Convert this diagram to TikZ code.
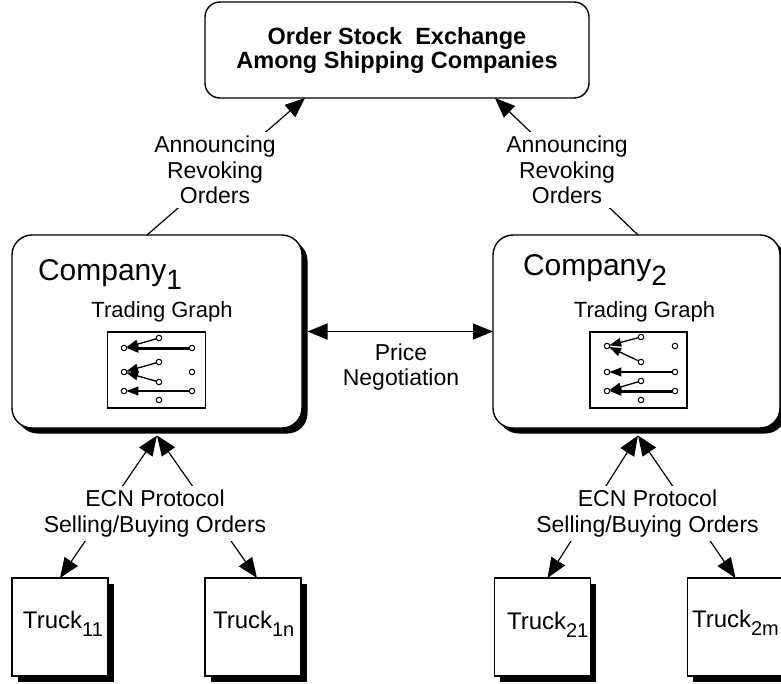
\documentclass[tikz,border=0pt]{standalone}
\usepackage{fontspec}
\setmainfont{Liberation Sans}
\usetikzlibrary{arrows.meta,shadows,calc}
\begin{document}
\begin{tikzpicture}[x=1pt,y=-1pt,
  every node/.style={inner sep=0pt,outer sep=0pt},
  shad/.style={drop shadow={shadow xshift=5.5pt,shadow yshift=-5.5pt,fill=black,opacity=1}},
  topbox/.style={draw,line width=1.4pt,fill=white,rounded corners=15pt,
    minimum width=384pt,minimum height=96pt,align=center,
    font=\fontsize{23.5}{24}\selectfont\bfseries},
  compbox/.style={draw,line width=1.4pt,fill=white,rounded corners=20pt,shad,
    minimum height=193pt},
  truckbox/.style={draw,line width=1.4pt,fill=white,shad,
    minimum width=96pt,minimum height=98pt},
  graphbox/.style={draw,line width=1.1pt,fill=white,minimum width=98pt,minimum height=76pt},
  gdot/.style={circle,draw,line width=1pt,fill=white,minimum size=5.5pt,inner sep=0pt},
  tip/.tip={Triangle[length=20pt,width=16pt]},
  gtip/.tip={Triangle[length=12pt,width=8.5pt]},
  conn/.style={line width=1.2pt,-tip},
  dconn/.style={line width=1.2pt,tip-tip},
  gthin/.style={line width=1.3pt,-gtip,shorten >=-0.5pt},
  gmed/.style={line width=2pt,-gtip,shorten >=-0.5pt},
  gthick/.style={line width=3pt,-gtip,shorten >=-0.5pt},
  lbl/.style={fill=white,align=center,font=\fontsize{23}{25.5}\selectfont,inner xsep=2pt,inner ysep=4.5pt},
  comptext/.style={anchor=base west,font=\fontsize{30}{30}\selectfont},
  tgtext/.style={anchor=base,font=\fontsize{22}{22}\selectfont},
  trucktext/.style={anchor=base west,font=\fontsize{24}{24}\selectfont}
]
\useasboundingbox (0,0) rectangle (781,683);
\clip (0,0) rectangle (781,683);

% main boxes
\node[topbox] (top) at (397,50) {Order Stock\ \ Exchange\\Among Shipping Companies};
\node[compbox,minimum width=290pt] (c1) at (157,331.5) {};
\node[compbox,minimum width=287pt] (c2) at (636.5,331.5) {};

\node[comptext] (c1t) at (38,280) {Company\raisebox{-9pt}{\fontsize{28}{28}\selectfont 1}};
\node[comptext] (c2t) at (523,275) {Company\raisebox{-10pt}{\fontsize{28}{28}\selectfont 2}};
\node[tgtext] (tg1) at (162,317) {Trading Graph};
\node[tgtext] (tg2) at (644.5,317) {Trading Graph};

% trading graph 1
\node[graphbox] (g1) at (156.5,370) {};
\node[gdot] (g1a) at (124,348) {};
\node[gdot] (g1b) at (159,338) {};
\node[gdot] (g1c) at (192,348) {};
\node[gdot] (g1d) at (124,372) {};
\node[gdot] (g1e) at (159,362) {};
\node[gdot] (g1f) at (192,372) {};
\node[gdot] (g1g) at (159,382) {};
\node[gdot] (g1h) at (124,391) {};
\node[gdot] (g1i) at (192,391) {};
\node[gdot] (g1j) at (159,400) {};
\draw[gthin] (g1b) -- (g1a);
\draw[gthick] (g1c) -- (g1a);
\draw[gthin] (g1e) -- (g1d);
\draw[gthin] (g1g) -- (g1d);
\draw[gmed] (g1i) -- (g1h);

% trading graph 2
\node[graphbox,minimum width=97pt] (g2) at (638.5,370) {};
\node[gdot] (g2a) at (607,346) {};
\node[gdot] (g2b) at (641,337) {};
\node[gdot] (g2c) at (675,346) {};
\node[gdot] (g2d) at (641,362) {};
\node[gdot] (g2e) at (607,372) {};
\node[gdot] (g2f) at (675,372) {};
\node[gdot] (g2g) at (641,381) {};
\node[gdot] (g2h) at (607,391) {};
\node[gdot] (g2i) at (675,391) {};
\node[gdot] (g2j) at (641,400) {};
\draw[gthin] (g2b) -- (g2a);
\draw[gthin] (g2d) -- (g2a);
\draw[gmed] (g2f) -- (g2e);
\draw[gthin] (g2g) -- (g2h);
\draw[gthick] (g2i) -- (g2h);

% trucks
\node[truckbox] (t11) at (60,627) {};
\node[truckbox] (t1n) at (253,627) {};
\node[truckbox] (t21) at (542.5,627) {};
\node[truckbox] (t2m) at (735.5,627) {};
\node[trucktext] (t11t) at (23,628) {Truck\raisebox{-8pt}{\fontsize{20}{20}\selectfont 11}};
\node[trucktext] (t1nt) at (213,628) {Truck\raisebox{-8pt}{\fontsize{20}{20}\selectfont 1n}};
\node[trucktext] (t21t) at (507,629) {Truck\raisebox{-8pt}{\fontsize{20}{20}\selectfont 21}};
\node[trucktext] (t2mt) at (692,627) {Truck\raisebox{-8pt}{\fontsize{20}{20}\selectfont 2m}};

% connectors
\draw[conn] ([xshift=-10pt]c1.north) -- ([xshift=-92pt]top.south);
\draw[conn] ([xshift=1.5pt]c2.north) -- ([xshift=98pt]top.south);
\draw[dconn] ([xshift=5.5pt]c1.east) -- (c2.west);
\draw[dconn] (t11.north) -- ([yshift=-7.5pt]c1.south);
\draw[dconn] ([xshift=4pt]t1n.north) -- ([yshift=-7.5pt]c1.south);
\draw[dconn] ([xshift=5pt]t21.north) -- ([xshift=1.5pt,yshift=-7.5pt]c2.south);
\draw[dconn] (t2m.north) -- ([xshift=1.5pt,yshift=-7.5pt]c2.south);

% labels
\node[lbl] (ann1) at (215,170) {Announcing\\Revoking\\Orders};
\node[lbl] (ann2) at (567,170) {Announcing\\Revoking\\Orders};
\node[lbl] (price) at (401,367) {Price\\Negotiation};
\node[lbl] (ecn1) at (155,513.5) {ECN Protocol\\Selling/Buying Orders};
\node[lbl] (ecn2) at (647.5,513.5) {ECN Protocol\\Selling/Buying Orders};
\end{tikzpicture}
\end{document}
